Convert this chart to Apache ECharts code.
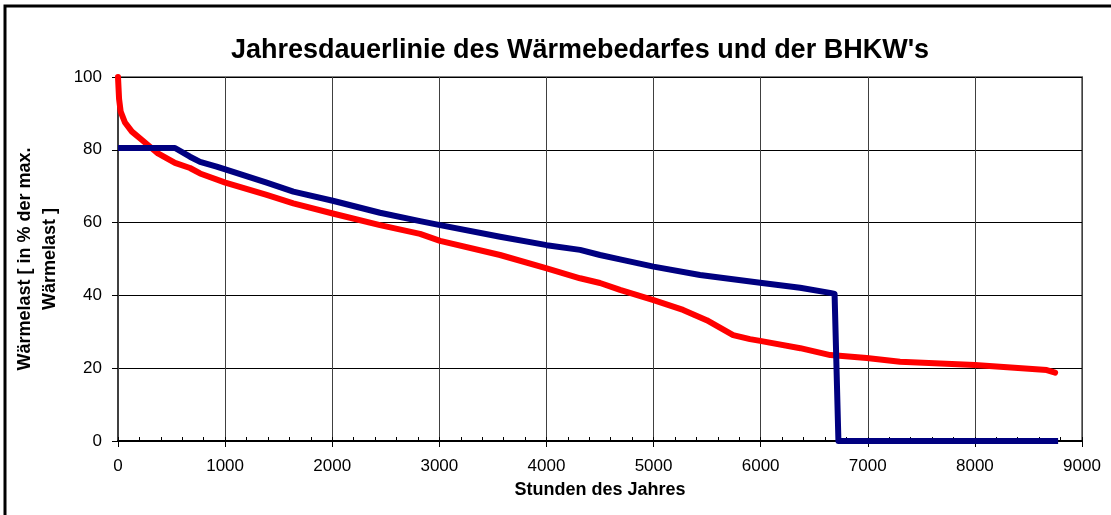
<!DOCTYPE html>
<html>
<head>
<meta charset="utf-8">
<script src="https://cdn.jsdelivr.net/npm/echarts@6/dist/echarts.min.js"></script>
<style>
html, body { margin: 0; padding: 0; background: #fff; }
#container { width: 1111px; height: 515px; }
</style>
</head>
<body>
<div id="container"></div>
<script>
// Wärmebedarf (rot)
var hoursDemand = [0, 10, 25, 65, 130, 224, 373, 532, 672, 766, 1002, 1388, 1637, 2005, 2446, 2820, 3007,
	3567, 4003, 4314, 4500, 4687, 5000, 5276, 5496, 5743, 5900, 5995, 6370, 6650, 6990, 7301, 8000, 8671, 8749];
var demand = [100, 94, 90.5, 87.5, 85, 82.7, 79, 76.4, 75, 73.5, 71, 67.6, 65.3, 62.5, 59.3, 56.9, 55,
	51.1, 47.4, 44.7, 43.4, 41.5, 38.7, 36, 33.2, 29.1, 28, 27.5, 25.5, 23.6, 22.8, 21.8, 20.9, 19.5, 18.8];

// BHKW (blau)
var hoursBhkw = [0, 532, 672, 766, 921, 1002, 1388, 1637, 2005, 2446, 2820, 3007, 3567, 4003, 4314,
	4500, 4687, 5000, 5434, 5995, 6368, 6648, 6690, 6726, 8777];
var bhkw = [80.5, 80.5, 78.1, 76.7, 75.4, 74.6, 71, 68.5, 66, 62.7, 60.4, 59.3, 56.1, 53.8, 52.5,
	51.1, 49.9, 47.9, 45.6, 43.5, 42.1, 40.7, 40.4, 0, 0];

var myChart = echarts.init(document.getElementById('container'));

function pairs(xs, ys) {
	return xs.map(function (x, i) { return [x, ys[i]]; });
}

var font = 'Liberation Sans, Arial, sans-serif';

option = {
	backgroundColor: '#fff',
	animation: false,
	title: {
		text: "Jahresdauerlinie des Wärmebedarfes und der BHKW's",
		left: 575,
		top: 32,
		textAlign: 'center',
		textStyle: { fontFamily: font, fontSize: 27, fontWeight: 'bold', color: '#000' }
	},
	graphic: [{
		type: 'rect',
		shape: { x: 5, y: 6, width: 1130, height: 530 },
		style: { fill: null, stroke: '#000', lineWidth: 3 },
		silent: true
	}],
	grid: {
		left: 118, right: 29, top: 77, bottom: 74,
		show: true, borderColor: '#808080', borderWidth: 2
	},
	xAxis: [{
		type: 'value',
		min: 0, max: 9000, interval: 1000,
		name: 'Stunden des Jahres',
		nameLocation: 'middle',
		nameGap: 40,
		nameTextStyle: { fontFamily: font, fontSize: 18, fontWeight: 'bold', color: '#000' },
		axisLine: { lineStyle: { color: '#000', width: 2 } },
		axisTick: { length: 6, lineStyle: { color: '#000' } },
		axisLabel: {
			margin: 17, fontFamily: font, fontSize: 17, color: '#000',
			formatter: function (v) { return String(v); }
		},
		splitLine: { lineStyle: { color: '#404040', width: 1 } }
	}, {
		type: 'value',
		position: 'bottom',
		min: 0, max: 9000, interval: 200,
		axisLine: { show: false },
		axisTick: { inside: true, length: 4, lineStyle: { color: '#000' } },
		axisLabel: { show: false },
		splitLine: { show: false }
	}],
	yAxis: {
		type: 'value',
		min: 0, max: 100, interval: 20,
		name: 'Wärmelast [ in % der max.\nWärmelast ]',
		nameLocation: 'middle',
		nameRotate: 90,
		nameGap: 45,
		nameTextStyle: { fontFamily: font, fontSize: 18, fontWeight: 'bold', color: '#000', lineHeight: 25 },
		axisLine: { show: true, lineStyle: { color: '#404040', width: 2 } },
		axisTick: { show: true, length: 6, lineStyle: { color: '#000' } },
		axisLabel: { margin: 16, fontFamily: font, fontSize: 17, color: '#000' },
		splitLine: { lineStyle: { color: '#000', width: 1 } }
	},
	series: [{
		name: 'Wärmebedarf',
		type: 'line',
		data: pairs(hoursDemand, demand),
		showSymbol: false,
		clip: false,
		lineStyle: { color: '#ff0000', width: 6, cap: 'round', join: 'round' }
	}, {
		name: 'BHKW',
		type: 'line',
		data: pairs(hoursBhkw, bhkw),
		showSymbol: false,
		clip: false,
		lineStyle: { color: '#000080', width: 6, join: 'round' }
	}]
};

myChart.setOption(option);
</script>
</body>
</html>
